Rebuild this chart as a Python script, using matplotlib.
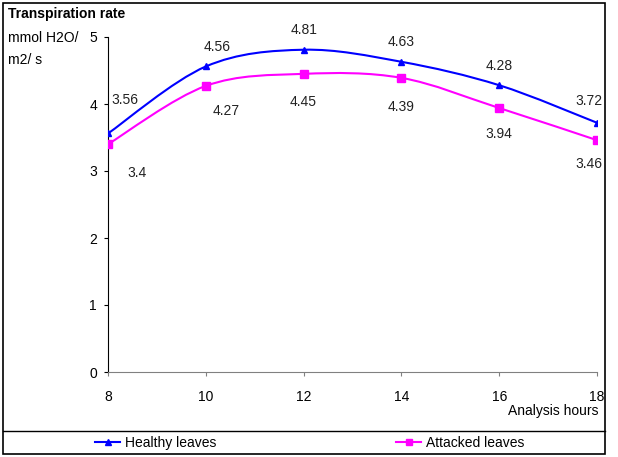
import numpy as np
import matplotlib
matplotlib.use('Agg')
import matplotlib.pyplot as plt
from matplotlib.path import Path
from matplotlib.patches import PathPatch, Rectangle
from matplotlib.lines import Line2D

# data
hours = [8, 10, 12, 14, 16, 18]
healthy = [3.56, 4.56, 4.81, 4.63, 4.28, 3.72]
attacked = [3.4, 4.27, 4.45, 4.39, 3.94, 3.46]
yticks = [0, 1, 2, 3, 4, 5]

plt.rcParams['font.family'] = 'Liberation Sans'
plt.rcParams['font.size'] = 10

W, H = 618, 457
fig = plt.figure(figsize=(W / 100, H / 100), dpi=100)
ax = fig.add_axes([108 / W, 1 - 372 / H, (597 - 108) / W, (372 - 37) / H])


def smooth_path(x, y):
    # Excel-like smoothed line: cubic bezier through the points
    x = np.asarray(x, float)
    y = np.asarray(y, float)
    verts = [(x[0], y[0])]
    codes = [Path.MOVETO]
    n = len(x)
    for i in range(n - 1):
        p0 = np.array([x[max(i - 1, 0)], y[max(i - 1, 0)]])
        p1 = np.array([x[i], y[i]])
        p2 = np.array([x[i + 1], y[i + 1]])
        p3 = np.array([x[min(i + 2, n - 1)], y[min(i + 2, n - 1)]])
        c1 = p1 + (p2 - p0) / 6
        c2 = p2 - (p3 - p1) / 6
        verts += [tuple(c1), tuple(c2), tuple(p2)]
        codes += [Path.CURVE4] * 3
    return Path(verts, codes)


blue = '#0000ff'
pink = '#ff00ff'
ax.add_patch(PathPatch(smooth_path(hours, healthy), fill=False, ec=blue, lw=1.5, zorder=3))
ax.add_patch(PathPatch(smooth_path(hours, attacked), fill=False, ec=pink, lw=1.5, zorder=3))
ax.plot(hours, healthy, ls='none', marker='^', ms=5, color=blue, zorder=4)
ax.plot(hours, attacked, ls='none', marker='s', ms=6, color=pink, zorder=4)

# value labels
h_off = [(12, 24), (8, 14), (0, 14), (0, 14), (0, 14), (-6, 16)]
a_off = [(21, -21), (15, -18), (0, -20), (0, -21), (0, -19), (-6, -17)]
for x, y, o in zip(hours, healthy, h_off):
    ax.annotate(f'{y:g}', (x, y), xytext=o, textcoords='offset points',
                ha='center', va='center', fontsize=10, color='#222222')
for x, y, o in zip(hours, attacked, a_off):
    ax.annotate(f'{y:g}', (x, y), xytext=o, textcoords='offset points',
                ha='center', va='center', fontsize=10, color='#222222')

ax.set_xlim(8, 18)
ax.set_ylim(0, 5)
ax.set_xticks(hours)
ax.set_yticks(yticks)
ax.spines['top'].set_visible(False)
ax.spines['right'].set_visible(False)
ax.spines['bottom'].set_color('#808080')
ax.spines['left'].set_color('black')
ax.tick_params(axis='x', length=3, color='#808080', pad=10, labelsize=10)
ax.tick_params(axis='y', length=3, color='black', pad=5, labelsize=10)
ax.patch.set_visible(False)

# titles
fig.text(8 / W, 1 - 14 / H, 'Transpiration rate', fontsize=10, fontweight='bold',
         va='center', ha='left')
fig.text(8 / W, 1 - 38 / H, 'mmol H2O/', fontsize=10, va='center', ha='left')
fig.text(8 / W, 1 - 60 / H, 'm2/ s', fontsize=10, va='center', ha='left')
fig.text(598 / W, 1 - 411 / H, 'Analysis hours', fontsize=10, va='center', ha='right')

# frame and legend box
fig.patches.append(Rectangle((3 / W, 1 - 454 / H), 602 / W, 451 / H, transform=fig.transFigure,
                             fill=False, ec='black', lw=1.2))
fig.lines.append(Line2D([3 / W, 605 / W], [1 - 431 / H] * 2, transform=fig.transFigure,
                        color='black', lw=1.0))

h1 = Line2D([], [], color=blue, marker='^', ms=4, lw=1.5)
h2 = Line2D([], [], color=pink, marker='s', ms=5, lw=1.5)
fig.legend([h1], ['Healthy leaves'], loc='center left', bbox_to_anchor=(83 / W, 1 - 443 / H),
           frameon=False, handlelength=1.8, handletextpad=0.3, fontsize=10)
fig.legend([h2], ['Attacked leaves'], loc='center left', bbox_to_anchor=(384 / W, 1 - 443 / H),
           frameon=False, handlelength=1.8, handletextpad=0.3, fontsize=10)

fig.savefig('out.png', dpi=100)
